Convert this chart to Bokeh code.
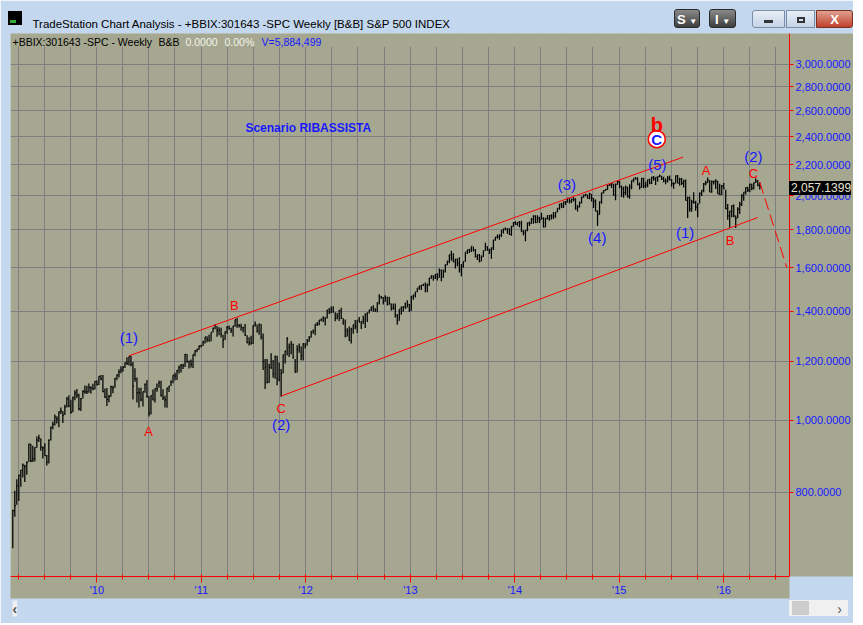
import pandas as pd
from bokeh.plotting import figure
from bokeh.layouts import column
from bokeh.models import (Range1d, FixedTicker, NumeralTickFormatter, CustomJSTickFormatter,
                          Label, Title, BoxAnnotation, ColumnDataSource, Div)
from bokeh.core.properties import value
from bokeh.embed import file_html
from bokeh.resources import INLINE

# ---------------- data: S&P 500 weekly bars (week ending Fridays) ----------------
FIRST_WEEK = "2009-03-13"

HIGH = [
    # 2009
    758, 804, 833, 845, 857, 875, 871, 881, 930, 930, 924, 920, 951, 956, 946, 922, 931, 898, 942, 980,
    996, 1018, 1012, 1027, 1040, 1029, 1049, 1074, 1080, 1065, 1076, 1097, 1101, 1085, 1071, 1097, 1113,
    1112, 1120, 1110, 1119, 1128, 1130,
    # 2010
    1145, 1150, 1150, 1103, 1104, 1081, 1112, 1112, 1139, 1151, 1170, 1181, 1181, 1195, 1214, 1217, 1220,
    1197, 1174, 1141, 1105, 1105, 1092, 1120, 1132, 1077, 1080, 1099, 1103, 1120, 1130, 1129, 1100, 1078,
    1105, 1112, 1131, 1149, 1158, 1168, 1184, 1189, 1190, 1227, 1227, 1201, 1206, 1225, 1241, 1247, 1259, 1262,
    # 2011
    1278, 1293, 1296, 1302, 1311, 1330, 1344, 1338, 1332, 1330, 1302, 1315, 1337, 1340, 1330, 1338, 1364,
    1371, 1346, 1347, 1334, 1346, 1300, 1292, 1298, 1340, 1356, 1344, 1347, 1346, 1307, 1208, 1208, 1190,
    1230, 1204, 1221, 1220, 1195, 1171, 1224, 1239, 1293, 1267, 1277, 1266, 1208, 1260, 1267, 1255, 1269, 1269,
    # 2012
    1285, 1297, 1316, 1323, 1345, 1354, 1363, 1368, 1378, 1374, 1406, 1414, 1420, 1422, 1395, 1392, 1406,
    1415, 1370, 1365, 1328, 1335, 1330, 1343, 1363, 1362, 1375, 1357, 1380, 1390, 1395, 1406, 1419, 1426,
    1413, 1438, 1475, 1467, 1463, 1471, 1464, 1464, 1434, 1434, 1434, 1388, 1409, 1420, 1423, 1438, 1448, 1431,
    # 2013
    1467, 1472, 1486, 1503, 1514, 1518, 1524, 1530, 1525, 1552, 1564, 1564, 1570, 1574, 1597, 1593, 1592,
    1618, 1636, 1667, 1687, 1674, 1646, 1648, 1654, 1620, 1632, 1680, 1693, 1698, 1710, 1709, 1696, 1669,
    1670, 1664, 1689, 1730, 1711, 1698, 1704, 1745, 1760, 1775, 1774, 1798, 1806, 1813, 1808, 1809, 1823, 1844,
    # 2014
    1849, 1843, 1850, 1851, 1799, 1798, 1841, 1847, 1867, 1883, 1883, 1883, 1875, 1897, 1872, 1869, 1884,
    1885, 1889, 1902, 1901, 1924, 1950, 1955, 1963, 1968, 1985, 1985, 1983, 1991, 1984, 1943, 1964, 1995,
    2006, 2011, 2008, 2019, 2010, 1986, 1977, 1912, 1965, 2018, 2034, 2041, 2071, 2075, 2079, 2075, 2077, 2094,
    # 2015
    2093, 2064, 2057, 2064, 2057, 2073, 2097, 2110, 2119, 2117, 2083, 2114, 2115, 2089, 2102, 2107, 2120,
    2126, 2117, 2123, 2135, 2127, 2121, 2109, 2126, 2129, 2104, 2085, 2129, 2133, 2114, 2113, 2102, 2103,
    1993, 1993, 1975, 2021, 1970, 1953, 2020, 2034, 2080, 2094, 2116, 2100, 2097, 2095, 2104, 2094, 2076,
    2067, 2081,
    # 2016
    2038, 1950, 1908, 1940, 1947, 1881, 1930, 1963, 2009, 2022, 2052, 2057, 2075, 2075, 2083, 2111, 2099, 2084,
]

LOW = [
    # 2009
    673, 742, 770, 779, 814, 838, 826, 845, 879, 878, 879, 880, 918, 935, 910, 888, 896, 869, 875, 939,
    972, 984, 990, 978, 1019, 991, 1016, 1040, 1041, 1020, 1025, 1063, 1071, 1030, 1029, 1069, 1085,
    1084, 1088, 1086, 1097, 1099, 1114,
    # 2010
    1115, 1131, 1090, 1071, 1045, 1057, 1075, 1087, 1105, 1131, 1141, 1156, 1161, 1175, 1186, 1184, 1181,
    1066, 1126, 1056, 1040, 1060, 1043, 1088, 1072, 1011, 1018, 1063, 1056, 1092, 1105, 1076, 1064, 1040,
    1039, 1091, 1111, 1121, 1131, 1132, 1155, 1159, 1171, 1178, 1194, 1173, 1177, 1175, 1218, 1233, 1242, 1252,
    # 2011
    1257, 1267, 1272, 1275, 1276, 1311, 1324, 1294, 1300, 1291, 1250, 1281, 1305, 1322, 1309, 1295, 1334,
    1330, 1331, 1318, 1311, 1297, 1268, 1259, 1262, 1265, 1334, 1311, 1302, 1283, 1168, 1101, 1120, 1122,
    1172, 1140, 1136, 1114, 1128, 1075, 1156, 1191, 1221, 1215, 1226, 1209, 1158, 1159, 1231, 1203, 1202, 1248,
    # 2012
    1259, 1274, 1290, 1306, 1300, 1337, 1341, 1357, 1354, 1340, 1369, 1388, 1391, 1393, 1357, 1366, 1358,
    1367, 1343, 1292, 1295, 1278, 1267, 1306, 1324, 1309, 1352, 1325, 1346, 1329, 1354, 1391, 1401, 1398,
    1397, 1396, 1429, 1455, 1429, 1441, 1426, 1428, 1403, 1406, 1373, 1343, 1359, 1385, 1398, 1412, 1416, 1398,
    # 2013
    1402, 1451, 1461, 1484, 1496, 1495, 1513, 1485, 1485, 1514, 1548, 1538, 1546, 1539, 1552, 1536, 1553,
    1578, 1613, 1624, 1636, 1630, 1598, 1608, 1578, 1560, 1601, 1631, 1670, 1676, 1681, 1684, 1654, 1640,
    1628, 1633, 1656, 1688, 1687, 1670, 1646, 1692, 1740, 1752, 1746, 1761, 1780, 1798, 1779, 1772, 1767, 1818,
    # 2014
    1828, 1823, 1815, 1790, 1770, 1738, 1792, 1822, 1834, 1834, 1839, 1840, 1839, 1857, 1814, 1815, 1859,
    1851, 1859, 1862, 1868, 1901, 1915, 1925, 1926, 1944, 1958, 1952, 1955, 1965, 1916, 1905, 1928, 1953,
    1987, 1995, 1983, 1978, 1965, 1926, 1906, 1821, 1886, 1951, 2014, 2030, 2035, 2062, 2049, 2002, 1973, 2069,
    # 2015
    2047, 1992, 1988, 2005, 1989, 1981, 2041, 2085, 2103, 2066, 2039, 2050, 2046, 2048, 2053, 2072, 2074,
    2094, 2068, 2089, 2118, 2099, 2085, 2072, 2084, 2097, 2056, 2044, 2077, 2079, 2063, 2067, 2052, 1971,
    1867, 1904, 1903, 1953, 1909, 1872, 1952, 1999, 2021, 2066, 2080, 2023, 2019, 2070, 2042, 2012, 2006,
    2005, 2043,
    # 2016
    1918, 1857, 1812, 1872, 1872, 1810, 1865, 1891, 1937, 1969, 2008, 2023, 2022, 2034, 2039, 2080, 2059, 2039,
]

CLOSE = [
    # 2009
    756, 768, 816, 843, 857, 870, 866, 877, 929, 882, 887, 919, 940, 946, 921, 918, 896, 879, 940, 979,
    987, 1010, 1004, 1026, 1029, 1016, 1042, 1068, 1044, 1025, 1071, 1087, 1080, 1036, 1069, 1093, 1091,
    1091, 1106, 1106, 1102, 1127, 1115,
    # 2010
    1145, 1136, 1092, 1074, 1066, 1075, 1109, 1104, 1138, 1150, 1160, 1167, 1178, 1194, 1192, 1217, 1187,
    1111, 1136, 1088, 1089, 1065, 1092, 1117, 1076, 1022, 1078, 1065, 1102, 1101, 1122, 1079, 1071, 1065,
    1104, 1110, 1125, 1149, 1146, 1166, 1176, 1183, 1183, 1225, 1199, 1199, 1189, 1225, 1240, 1244, 1257, 1258,
    # 2011
    1272, 1293, 1283, 1276, 1311, 1329, 1343, 1320, 1321, 1304, 1279, 1314, 1332, 1328, 1320, 1338, 1364,
    1340, 1338, 1333, 1331, 1300, 1271, 1271, 1268, 1340, 1344, 1316, 1345, 1292, 1199, 1178, 1124, 1177,
    1174, 1154, 1216, 1136, 1131, 1155, 1224, 1238, 1285, 1253, 1264, 1216, 1159, 1244, 1255, 1219, 1265, 1258,
    # 2012
    1278, 1289, 1315, 1316, 1345, 1343, 1362, 1366, 1370, 1371, 1404, 1397, 1408, 1398, 1370, 1379, 1403,
    1369, 1353, 1295, 1318, 1278, 1325, 1343, 1335, 1362, 1354, 1357, 1363, 1386, 1391, 1405, 1418, 1411,
    1407, 1438, 1466, 1460, 1441, 1461, 1428, 1433, 1411, 1414, 1380, 1359, 1409, 1416, 1418, 1413, 1430, 1402,
    # 2013
    1466, 1472, 1486, 1503, 1513, 1518, 1520, 1516, 1518, 1551, 1561, 1556, 1569, 1553, 1588, 1555, 1582,
    1614, 1633, 1667, 1650, 1631, 1643, 1626, 1593, 1606, 1632, 1680, 1692, 1692, 1710, 1691, 1656, 1664,
    1633, 1655, 1688, 1710, 1692, 1691, 1703, 1745, 1760, 1762, 1771, 1798, 1805, 1806, 1805, 1775, 1818, 1841,
    # 2014
    1832, 1842, 1838, 1790, 1783, 1797, 1838, 1836, 1859, 1878, 1841, 1866, 1857, 1865, 1815, 1864, 1863,
    1881, 1878, 1878, 1901, 1924, 1950, 1936, 1963, 1961, 1985, 1968, 1978, 1978, 1925, 1932, 1955, 1988,
    2003, 2008, 1985, 2011, 1983, 1967, 1906, 1887, 1964, 2018, 2032, 2039, 2064, 2068, 2075, 2003, 2071, 2089,
    # 2015
    2058, 2045, 2019, 2051, 1995, 2055, 2097, 2110, 2105, 2071, 2053, 2108, 2061, 2067, 2102, 2081, 2117,
    2108, 2116, 2123, 2126, 2107, 2092, 2094, 2110, 2102, 2077, 2077, 2127, 2080, 2104, 2078, 2092, 1971,
    1989, 1921, 1961, 1958, 1931, 1951, 2015, 2033, 2075, 2079, 2099, 2023, 2089, 2090, 2092, 2012, 2006,
    2061, 2044,
    # 2016
    1922, 1880, 1907, 1940, 1880, 1865, 1918, 1948, 2000, 2022, 2050, 2035, 2073, 2048, 2081, 2092, 2065, 2057.14,
]

LAST_PRICE = 2057.1399

PRICE_TICKS = [800, 1000, 1200, 1400, 1600, 1800, 2000, 2200, 2400, 2600, 2800, 3000]
YEAR_TICKS = ["2010-01-01", "2011-01-01", "2012-01-01", "2013-01-01", "2014-01-01", "2015-01-01", "2016-01-01"]
YEAR_LABELS = ["'10", "'11", "'12", "'13", "'14", "'15", "'16"]
QUARTER_FIRST, QUARTER_LAST = "2009-04-01", "2016-07-01"

# Elliott-wave annotations (anchor date, price)
WAVE_TEXT = ["(1)", "A", "B", "C", "(2)", "(3)", "(4)", "(5)", "(1)", "A", "B", "(2)", "C"]
WAVE_DATE = ["2010-04-23", "2010-07-01", "2011-04-26", "2011-10-07", "2011-10-07", "2014-07-02",
             "2014-10-16", "2015-05-14", "2015-08-19", "2015-10-31", "2016-01-23", "2016-04-14", "2016-04-14"]
WAVE_PRICE = [1291, 966, 1425, 1037, 987, 2071, 1758, 2205, 1785, 2162, 1742, 2258, 2142]
WAVE_KIND = ["wave", "abc", "abc", "abc", "wave", "wave", "wave", "wave", "wave", "abc", "abc", "wave", "abc"]

CIRCLE_C = ("2015-05-12", 2382)
SMALL_B = ("2015-05-12", 2490)
SCENARIO = ("Scenario RIBASSISTA", "2012-01-10", 2469)

UPPER_DATES, UPPER_PRICES = ["2010-04-23", "2015-08-12"], [1219.8, 2253]
LOWER_DATES, LOWER_PRICES = ["2011-10-07", "2016-04-29"], [1077, 1870]
PROJ_DATES, PROJ_PRICES = ["2016-05-06", "2016-08-09"], [2086, 1600]

# ---------------- styling ----------------
OLIVE = "#A5A791"
FRAME = "#C3D7EE"
GRID = "#7E7E80"
BLUE = "#1818FF"
RED = "#FF0000"
FONT = "Liberation Sans"

X0, X1 = pd.Timestamp("2009-03-05"), pd.Timestamp("2016-08-18")
Y0, Y1 = 617, 3301

p = figure(x_axis_type="datetime", y_axis_type="log", y_axis_location="right",
           frame_width=779, frame_height=543,
           x_range=Range1d(X0, X1), y_range=Range1d(Y0, Y1),
           output_backend="svg", toolbar_location=None,
           min_border_left=10, min_border_right=9, min_border_top=33, min_border_bottom=47,
           background_fill_color=OLIVE, border_fill_color=FRAME, outline_line_color=None)

# title bar
p.title.text = "TradeStation Chart Analysis - +BBIX:301643 -SPC Weekly [B&B] S&P 500 INDEX"
p.title.text_font = FONT
p.title.text_font_size = "11.5px"
p.title.text_font_style = "normal"
p.title.text_color = "#000000"
p.title.align = "left"
p.title.offset = 22
p.title.standoff = 8
p.title.background_fill_color = FRAME

# axes
def ms(s):
    return pd.Timestamp(s).value // 10**6

year_ms = [ms(s) for s in YEAR_TICKS]
quarter_ms = [d.value // 10**6 for d in pd.date_range(QUARTER_FIRST, QUARTER_LAST, freq="QS")]

xa = p.xaxis[0]
xa.ticker = FixedTicker(ticks=year_ms, minor_ticks=quarter_ms)
xa.formatter = CustomJSTickFormatter(args=dict(yt=year_ms, yl=YEAR_LABELS),
                                     code="const i = yt.indexOf(tick); return i >= 0 ? yl[i] : '';")
xa.axis_line_color = RED
xa.major_tick_line_color = RED
xa.minor_tick_line_color = RED
xa.major_tick_in, xa.major_tick_out = 2, 6
xa.minor_tick_in, xa.minor_tick_out = 2, 3
xa.major_label_text_color = BLUE
xa.major_label_text_font = FONT
xa.major_label_text_font_size = "11px"
xa.major_label_standoff = 1
xa.background_fill_color = OLIVE

ya = p.yaxis[0]
ya.ticker = FixedTicker(ticks=PRICE_TICKS)
ya.formatter = NumeralTickFormatter(format="0,0.0000")
ya.axis_line_color = RED
ya.major_tick_line_color = RED
ya.minor_tick_line_color = None
ya.major_tick_in, ya.major_tick_out = 0, 4
ya.major_label_text_color = BLUE
ya.major_label_text_font = FONT
ya.major_label_text_font_size = "11px"
ya.major_label_standoff = 2
ya.background_fill_color = OLIVE

p.xgrid.ticker = FixedTicker(ticks=quarter_ms)
p.xgrid.grid_line_color = GRID
p.ygrid.grid_line_color = GRID

# header band (no grid behind the status text)
p.add_layout(BoxAnnotation(bottom=3166, fill_color=OLIVE, fill_alpha=1, line_color=None, level="underlay"))

# ---------------- bars ----------------
dates = pd.date_range(FIRST_WEEK, periods=len(CLOSE), freq="W-FRI")
src = ColumnDataSource(dict(d=dates, d2=dates + pd.Timedelta(hours=84), h=HIGH, l=LOW, c=CLOSE))
p.segment(x0="d", y0="l", x1="d", y1="h", source=src, line_color="black", line_width=1.25)
p.segment(x0="d", y0="c", x1="d2", y1="c", source=src, line_color="black", line_width=1.25)

# channel lines and projection
p.line(pd.to_datetime(UPPER_DATES), UPPER_PRICES, line_color=RED, line_width=1)
p.line(pd.to_datetime(LOWER_DATES), LOWER_PRICES, line_color=RED, line_width=1)
p.line(pd.to_datetime(PROJ_DATES), PROJ_PRICES, line_color=RED, line_width=1, line_dash="12 5")

# wave labels
wsrc = ColumnDataSource(dict(
    d=pd.to_datetime(WAVE_DATE), p=WAVE_PRICE, t=WAVE_TEXT,
    col=[BLUE if k == "wave" else RED for k in WAVE_KIND],
    fs=["15px" if k == "wave" else "13px" for k in WAVE_KIND]))
p.text(x="d", y="p", text="t", text_color="col", text_font_size="fs", source=wsrc,
       text_align="center", text_baseline="middle", text_font=value(FONT))

# circled C and b
p.scatter([pd.Timestamp(CIRCLE_C[0])], [CIRCLE_C[1]], size=17, fill_color="white",
          line_color=RED, line_width=1.5)
p.text([pd.Timestamp(CIRCLE_C[0])], [CIRCLE_C[1]], text=["C"], text_color=BLUE,
       text_font_size="15px", text_font_style="bold", text_align="center",
       text_baseline="middle", text_font=value(FONT))
p.text([pd.Timestamp(SMALL_B[0])], [SMALL_B[1]], text=["b"], text_color=RED,
       text_font_size="20px", text_font_style="bold", text_align="center",
       text_baseline="middle", text_font=value(FONT))
p.text([pd.Timestamp(SCENARIO[1])], [SCENARIO[2]], text=[SCENARIO[0]], text_color=BLUE,
       text_font_size="12px", text_font_style="bold", text_align="center",
       text_baseline="middle", text_font=value(FONT))

# status line at top-left
for txt, dx, col in [("+BBIX:301643 -SPC - Weekly", 2, "black"), ("B&B", 148, "black"),
                     ("0.0000", 175, "#F4F4EA"), ("0.00%", 214, "#F4F4EA"), ("V=5,884,499", 251, BLUE)]:
    p.add_layout(Label(x=X0, y=Y1, x_offset=dx, y_offset=-8, text=txt, text_color=col,
                       text_font=FONT, text_font_size="10.5px", text_baseline="middle"))

# scrollbar strip
sb = Title(text="\u2039", align="left", text_font=FONT, text_font_size="14px",
           text_color="#555555", background_fill_color="#F0F0F0", offset=2, standoff=0)
p.add_layout(sb, "below")

# ---------------- window chrome overlays (outside the plotting frame) ----------------
def overlay(html, left, top, w, h, extra):
    st = {"position": "absolute", "left": f"{left}px", "top": f"{top}px", "z-index": "10",
          "font-family": FONT, "overflow": "hidden"}
    st.update(extra)
    return Div(text=html, width=w, height=h, margin=0, styles=st)

btn = {"background": "linear-gradient(#8a8a8a, #3e3e3e)", "color": "white", "font-size": "13px",
       "font-weight": "bold", "text-align": "center", "line-height": "19px", "border-radius": "3px",
       "border": "1px solid #2a2a2a"}
chrome = [
    overlay(f"{LAST_PRICE:,.4f}", 789, 181, 62, 14,
            {"background": "black", "color": "#E4E4D0", "font-size": "12px", "line-height": "14px",
             "text-indent": "2px"}),
    overlay("S <span style='font-size:8px'>\u25bc</span>", 674, 9, 26, 19, btn),
    overlay("I <span style='font-size:8px'>\u25bc</span>", 709, 9, 27, 19, btn),
    overlay("<span style='display:inline-block;width:9px;height:3px;background:#333;margin-top:9px'></span>",
            752, 10, 33, 18, {"background": "linear-gradient(#e8eef6, #c4d3e6)", "text-align": "center",
                              "border": "1px solid #7a8ea8", "border-radius": "3px 0 0 3px"}),
    overlay("<span style='display:inline-block;width:8px;height:6px;border:2px solid #333;margin-top:4px'></span>",
            786, 10, 29, 18, {"background": "linear-gradient(#e8eef6, #c4d3e6)", "text-align": "center",
                              "border": "1px solid #7a8ea8"}),
    overlay("<b>X</b>", 816, 10, 37, 18, {"background": "linear-gradient(#e0a090, #c0402c)", "color": "white",
                                          "text-align": "center", "line-height": "18px", "font-size": "13px",
                                          "border": "1px solid #7a3020", "border-radius": "0 3px 3px 0"}),
    overlay("<span style='display:inline-block;width:6px;height:3px;background:#3a3;margin:9px 0 0 2px'></span>",
            8, 11, 14, 14, {"background": "black"}),
    overlay("<span style='position:absolute;left:3px;top:1px;width:17px;height:14px;background:#CDCDCD'></span>"
            "<span style='position:absolute;right:6px;top:-1px;color:#555;font-size:14px'>\u203a</span>",
            789, 600, 59, 16, {"background": "#F0F0F0"}),
]

layout = column(p, *chrome, spacing=0)
open("out.html", "w").write(file_html(layout, INLINE))
